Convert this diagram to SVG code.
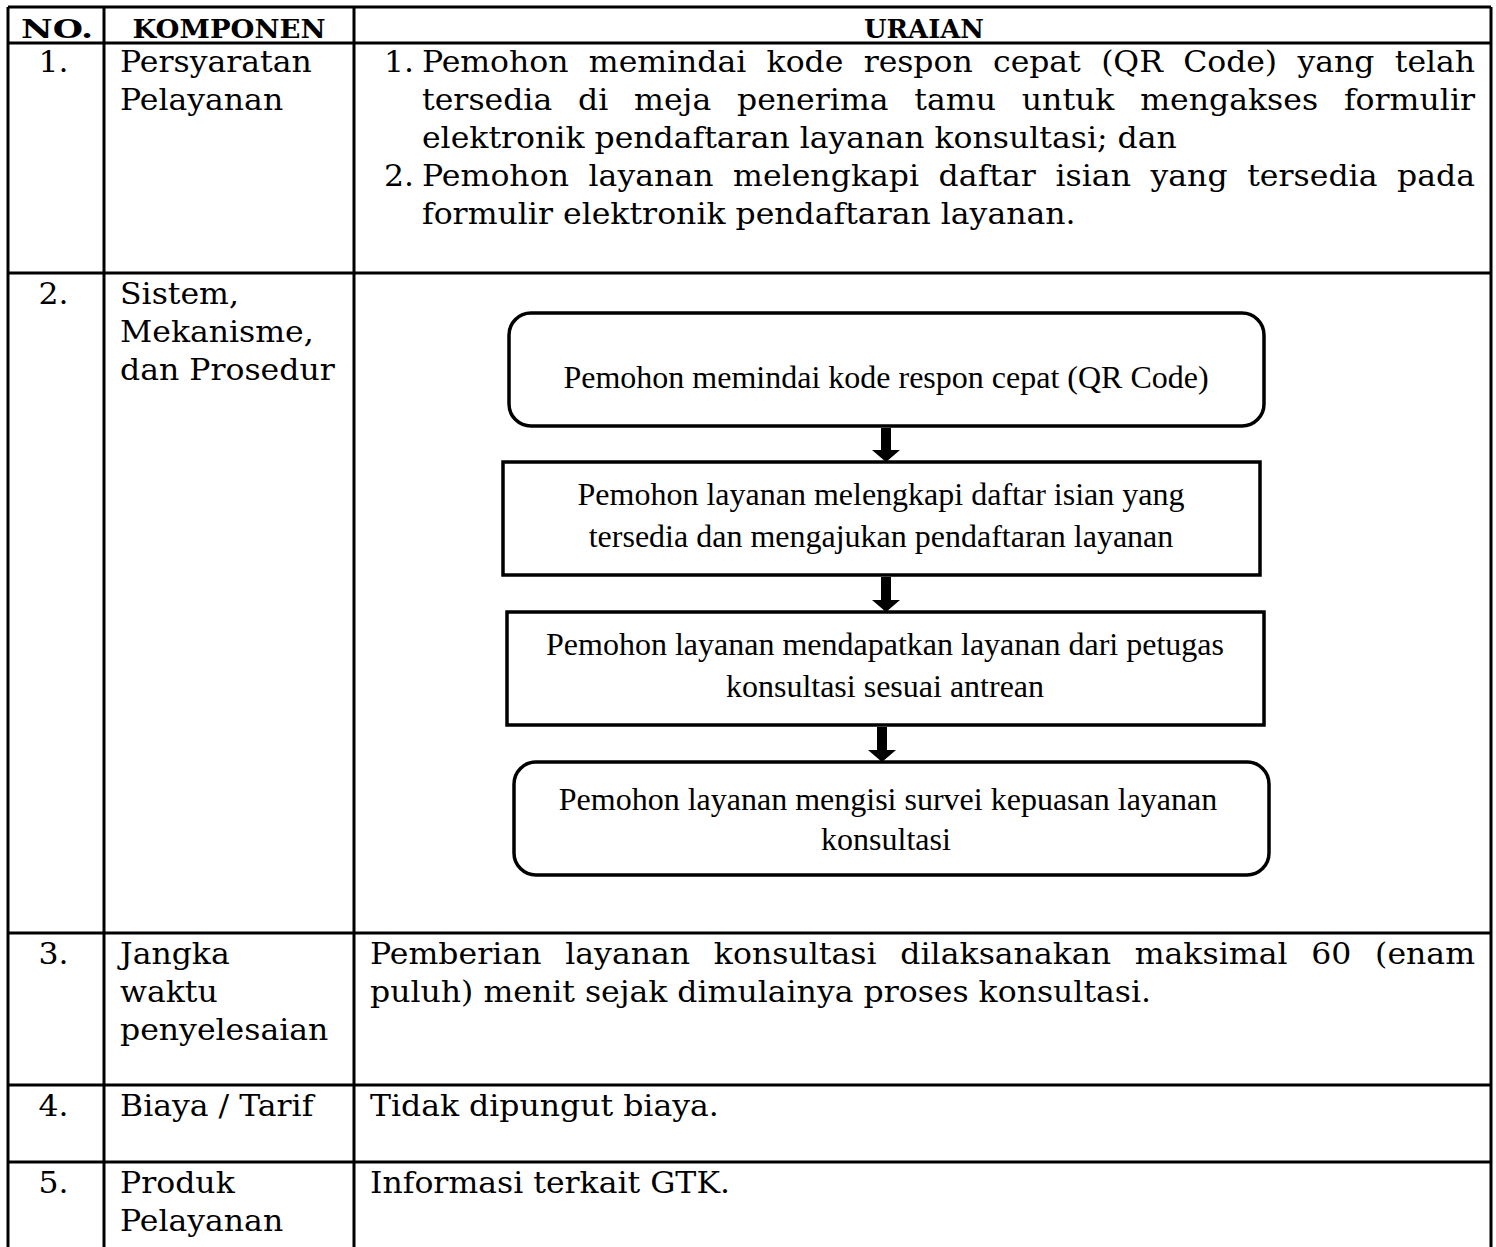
<svg xmlns="http://www.w3.org/2000/svg" width="1496" height="1247" viewBox="0 0 1496 1247">
<style>
.grid{stroke:#000;stroke-width:3;fill:none}
.t{font-family:"DejaVu Serif","Liberation Serif",serif;font-size:30px;fill:#000}
.h{font-family:"DejaVu Serif","Liberation Serif",serif;font-size:26px;font-weight:bold;fill:#000;text-anchor:middle}
.c{text-anchor:middle}
.box{fill:#fff;stroke:#000;stroke-width:3.5}
.ft{font-family:"Liberation Serif","Times New Roman",serif;font-size:32px;fill:#000;text-anchor:middle}
.arr{fill:#000}
</style>
<rect width="1496" height="1247" fill="#fff"/>
<g id="table">
<path class="grid" d="M8 7V1247M104 7V1247M354 7V1247M1491 7V1247M8 7H1491M8 43H1491M8 273H1491M8 933H1491M8 1085H1491M8 1162H1491"/>
<text class="h" x="57" y="38" textLength="72" lengthAdjust="spacingAndGlyphs">NO.</text>
<text class="h" x="229" y="38" textLength="193" lengthAdjust="spacingAndGlyphs">KOMPONEN</text>
<text class="h" x="924" y="38" textLength="120" lengthAdjust="spacingAndGlyphs">URAIAN</text>
</g>
<g transform="scale(1.05,1)">
<g id="row1">
<text class="t c" x="51" y="72">1.</text>
<text class="t" x="114.3" y="72">Persyaratan</text>
<text class="t" x="114.3" y="110">Pelayanan</text>
<text class="t" x="365.7" y="72">1.</text>
<text class="t" x="401.9" y="72" textLength="1002.9" word-spacing="10">Pemohon memindai kode respon cepat (QR Code) yang telah</text>
<text class="t" x="401.9" y="110" textLength="1002.9" word-spacing="15">tersedia di meja penerima tamu untuk mengakses formulir</text>
<text class="t" x="401.9" y="148">elektronik pendaftaran layanan konsultasi; dan</text>
<text class="t" x="365.7" y="186">2.</text>
<text class="t" x="401.9" y="186" textLength="1002.9" word-spacing="9">Pemohon layanan melengkapi daftar isian yang tersedia pada</text>
<text class="t" x="401.9" y="224">formulir elektronik pendaftaran layanan.</text>
</g>
<g id="row2">
<text class="t c" x="51" y="304">2.</text>
<text class="t" x="114.3" y="304">Sistem,</text>
<text class="t" x="114.3" y="342">Mekanisme,</text>
<text class="t" x="114.3" y="380">dan Prosedur</text>
</g>
<g id="row3">
<text class="t c" x="51" y="964">3.</text>
<text class="t" x="114.3" y="964">Jangka</text>
<text class="t" x="114.3" y="1002">waktu</text>
<text class="t" x="114.3" y="1040">penyelesaian</text>
<text class="t" x="352.4" y="964" textLength="1052.4" word-spacing="13">Pemberian layanan konsultasi dilaksanakan maksimal 60 (enam</text>
<text class="t" x="352.4" y="1002">puluh) menit sejak dimulainya proses konsultasi.</text>
</g>
<g id="row4">
<text class="t c" x="51" y="1116">4.</text>
<text class="t" x="114.3" y="1116">Biaya / Tarif</text>
<text class="t" x="352.4" y="1116">Tidak dipungut biaya.</text>
</g>
<g id="row5">
<text class="t c" x="51" y="1193">5.</text>
<text class="t" x="114.3" y="1193">Produk</text>
<text class="t" x="114.3" y="1231">Pelayanan</text>
<text class="t" x="352.4" y="1193">Informasi terkait GTK.</text>
</g>
</g>
<g id="node1">
<rect class="box" x="509" y="313" width="755" height="113" rx="22"/>
<text class="ft" x="886" y="388">Pemohon memindai kode respon cepat (QR Code)</text>
</g>
<g id="node2">
<rect class="box" x="503" y="462" width="757" height="113"/>
<text class="ft" x="881" y="505">Pemohon layanan melengkapi daftar isian yang</text>
<text class="ft" x="881" y="547">tersedia dan mengajukan pendaftaran layanan</text>
</g>
<g id="node3">
<rect class="box" x="507" y="612" width="757" height="113"/>
<text class="ft" x="885" y="655">Pemohon layanan mendapatkan layanan dari petugas</text>
<text class="ft" x="885" y="697">konsultasi sesuai antrean</text>
</g>
<g id="node4">
<rect class="box" x="514" y="762" width="755" height="113" rx="22"/>
<text class="ft" x="888" y="810">Pemohon layanan mengisi survei kepuasan layanan</text>
<text class="ft" x="886" y="850">konsultasi</text>
</g>
<g id="connectors">
<path class="arr" d="M881 428H891V450H900L886 462L872 450H881Z"/>
<path class="arr" d="M881 577H891V600H900L886 612L872 600H881Z"/>
<path class="arr" d="M877 727H887V750H896L882 762L868 750H877Z"/>
</g>
</svg>
